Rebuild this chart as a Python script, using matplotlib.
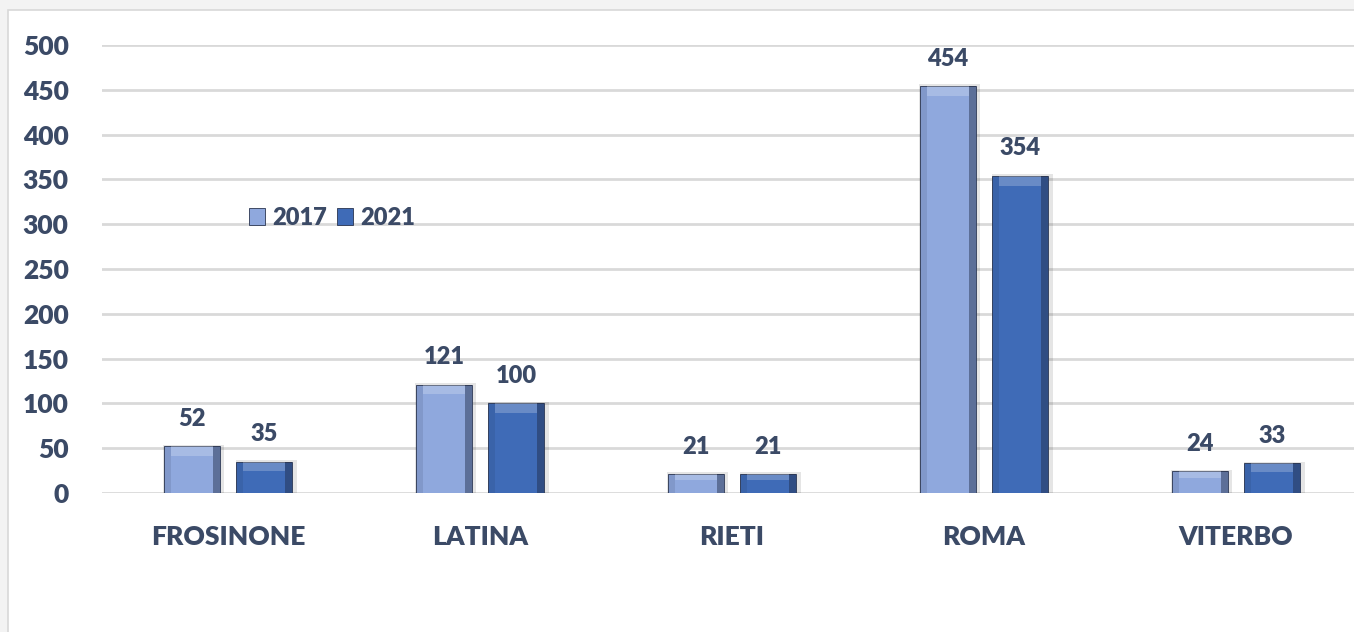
import matplotlib
matplotlib.use("Agg")
import matplotlib.pyplot as plt
from matplotlib.patches import Rectangle
import numpy as np

categories = ["FROSINONE", "LATINA", "RIETI", "ROMA", "VITERBO"]
series_names = ["2017", "2021"]
values_2017 = [52, 121, 21, 454, 24]
values_2021 = [35, 100, 21, 354, 33]
yticks = [0, 50, 100, 150, 200, 250, 300, 350, 400, 450, 500]

plt.rcParams['font.family'] = ['Lato', 'DejaVu Sans']
TXT = "#3B4A66"
C17 = "#8FA8DD"
C21 = "#3F6BB7"
WT = "heavy"

fig = plt.figure(figsize=(13.54, 6.32), dpi=100, facecolor="#F3F3F3")
bg = fig.add_axes([0, 0, 1, 1], zorder=-10)
bg.set_xlim(0, 1354); bg.set_ylim(632, 0); bg.axis("off")
bg.add_patch(Rectangle((8, 10), 1400, 700, facecolor="white", edgecolor="#D8D8D8", lw=1.2))

ax = fig.add_axes([102/1354, 139/632, 1 - 102/1354, 448/632])
ax.set_facecolor("none")

x = np.arange(len(categories))
w = 0.222
off = 0.143

def bevel_bars(xs, vals, color, label):
    vals = np.asarray(vals, dtype=float)
    # soft shadow
    ax.bar(xs + 0.008, vals + 2, w + 0.02, color="#000000", alpha=0.10, zorder=2, linewidth=0)
    bars = ax.bar(xs, vals, w, color=color, label=label, zorder=3,
                  edgecolor="#2A3550", linewidth=0.6)
    ax.bar(xs + w * 0.44, vals, w * 0.12, color="#1E2A45", alpha=0.45, zorder=4, linewidth=0)
    ax.bar(xs - w * 0.44, vals, w * 0.12, color="#1E2A45", alpha=0.12, zorder=4, linewidth=0)
    top = np.minimum(11, vals * 0.3)
    ax.bar(xs, top, w * 0.76, bottom=vals - top, color="white", alpha=0.22, zorder=4, linewidth=0)
    return bars

bevel_bars(x - off, values_2017, C17, series_names[0])
bevel_bars(x + off, values_2021, C21, series_names[1])

for xs, vals in [(x - off, values_2017), (x + off, values_2021)]:
    for xi, v in zip(xs, vals):
        ax.annotate(str(v), (xi, v), xytext=(0, 12), textcoords="offset points",
                    ha="center", va="bottom", fontsize=17, fontweight=WT, color=TXT)

ax.set_ylim(0, 500)
ax.set_xlim(-0.5, (1354 - 228) / 252)
ax.set_yticks(yticks)
ax.set_yticklabels([str(t) for t in yticks], fontsize=19, fontweight=WT, color=TXT)
ax.set_xticks(x)
ax.set_xticklabels(categories, fontsize=19, fontweight=WT, color=TXT)
ax.tick_params(axis="both", length=0)
ax.tick_params(axis="y", pad=24)
ax.tick_params(axis="x", pad=23)
ax.grid(axis="y", color="#D9D9D9", lw=2, zorder=0)
for s in ax.spines.values():
    s.set_visible(False)

ax.legend(loc="center", bbox_to_anchor=((332 - 102) / 1252, (632 - 218 - 139) / 448),
          ncol=2, frameon=False, prop={"weight": WT, "size": 17},
          handlelength=0.7, handleheight=0.7, handletextpad=0.3, columnspacing=0.4,
          labelcolor=TXT)

fig.savefig("out.png", dpi=100, facecolor=fig.get_facecolor())
